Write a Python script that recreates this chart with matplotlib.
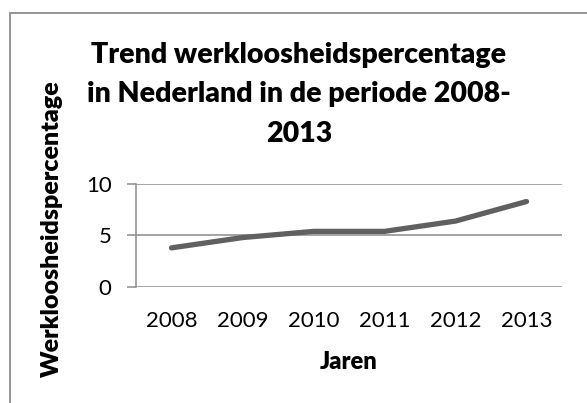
import matplotlib
matplotlib.use("Agg")
import matplotlib.pyplot as plt
from matplotlib.patches import Rectangle

years = ["2008", "2009", "2010", "2011", "2012", "2013"]
werkloosheid = [3.8, 4.8, 5.4, 5.4, 6.4, 8.3]
yticks = [0, 5, 10]
title_lines = ["Trend werkloosheidspercentage", "in Nederland in de periode 2008-", "2013"]

FONT = "Lato"
fig = plt.figure(figsize=(5.87, 4.03), dpi=100)
W, H = 587, 403

# outer chart border
fig.patches.append(Rectangle((10 / W, -0.05), 1.0, (H - 13) / H + 0.05, transform=fig.transFigure,
                             fill=False, edgecolor="#8c8c8c", linewidth=1.3))

ax = fig.add_axes([136 / W, 1 - 287 / H, (562 - 136) / W, (287 - 184) / H])
x = list(range(len(years)))
ax.plot(x, werkloosheid, color="#606060", linewidth=3.8, solid_capstyle="round",
        solid_joinstyle="round")
ax.set_xlim(-0.5, len(years) - 0.5)
ax.set_ylim(0, 10)
ax.set_yticks(yticks)
ax.set_yticklabels([str(v) for v in yticks], fontsize=16, family=FONT)
ax.set_xticks(x)
ax.set_xticklabels(years, fontsize=16, family=FONT)
ax.yaxis.grid(True, color="#8c8c8c", linewidth=1.1)
ax.set_axisbelow(True)
for s in ["top", "right", "bottom"]:
    ax.spines[s].set_visible(False)
ax.spines["left"].set_color("#8c8c8c")
ax.spines["left"].set_linewidth(1.1)
ax.tick_params(axis="y", length=6.5, width=1.1, color="#8c8c8c", pad=11)
ax.tick_params(axis="x", length=0, pad=17)

for line, base in zip(title_lines, [63, 102, 142]):
    fig.text(299 / W, 1 - base / H, line, ha="center", va="baseline", fontsize=20.5,
             fontweight="heavy", family=FONT)
fig.text(52 / W, 1 - 228.5 / H, "Werkloosheidspercentage", rotation=90, ha="center", va="center",
         fontsize=18, fontweight="heavy", family=FONT)
fig.text(349 / W, 1 - 362 / H, "Jaren", ha="center", va="center", fontsize=17,
         fontweight="heavy", family=FONT)

fig.savefig("out.png", dpi=100)
